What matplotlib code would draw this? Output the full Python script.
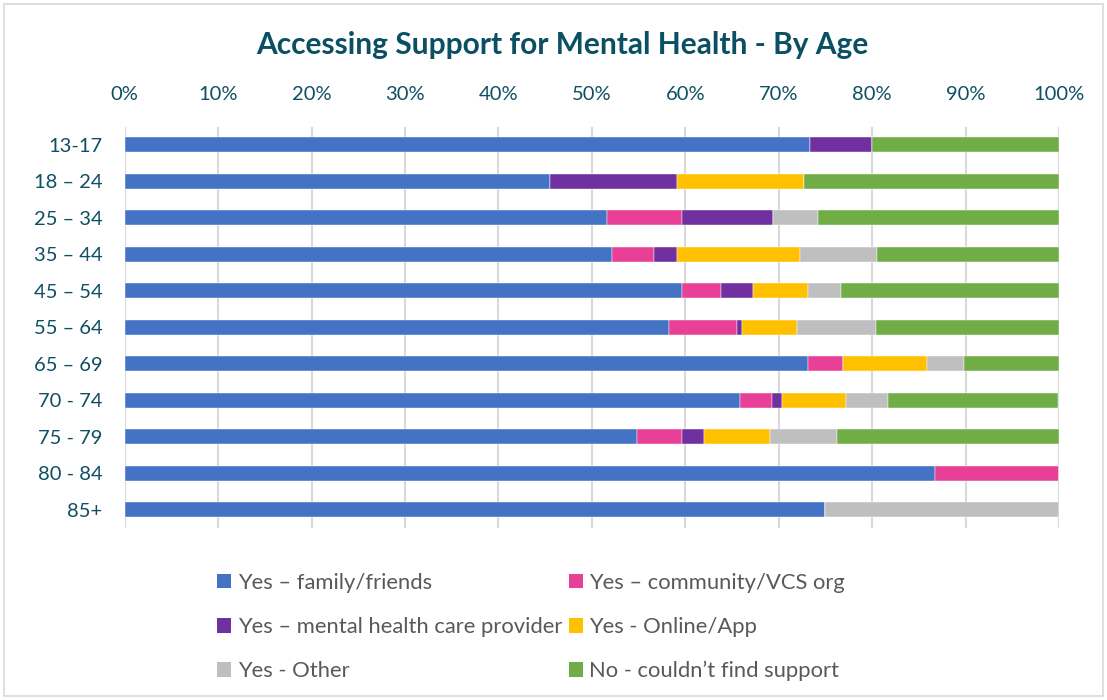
import matplotlib
matplotlib.use("Agg")
import matplotlib.pyplot as plt
from matplotlib.patches import Rectangle

plt.rcParams['font.family'] = ['Lato', 'DejaVu Sans']

categories = ["13-17", "18 – 24", "25 – 34", "35 – 44", "45 – 54", "55 – 64",
              "65 – 69", "70 - 74", "75 - 79", "80 - 84", "85+"]
series_names = ["Yes – family/friends", "Yes – community/VCS org",
                "Yes – mental health care provider", "Yes - Online/App",
                "Yes - Other", "No - couldn’t find support"]
family_friends = [73.3, 45.5, 51.6, 52.2, 59.6, 58.3, 73.1, 65.9, 54.8, 86.7, 75.0]
community_vcs  = [0.0, 0.0, 8.1, 4.4, 4.2, 7.2, 3.8, 3.4, 4.8, 13.3, 0.0]
mh_provider    = [6.7, 13.6, 9.7, 2.5, 3.5, 0.6, 0.0, 1.1, 2.4, 0.0, 0.0]
online_app     = [0.0, 13.6, 0.0, 13.2, 5.8, 5.9, 9.0, 6.8, 7.1, 0.0, 0.0]
other          = [0.0, 0.0, 4.8, 8.2, 3.6, 8.4, 3.9, 4.5, 7.1, 0.0, 25.0]
no_support     = [20.0, 27.3, 25.8, 19.5, 23.3, 19.6, 10.2, 18.2, 23.8, 0.0, 0.0]
xticklabels = ["0%", "10%", "20%", "30%", "40%", "50%", "60%", "70%", "80%", "90%", "100%"]

series = [family_friends, community_vcs, mh_provider, online_app, other, no_support]
colors = ["#4472C4", "#E84096", "#7030A0", "#FFC000", "#BFBFBF", "#70AD47"]

W, H = 1107, 700
fig = plt.figure(figsize=(W / 100, H / 100), dpi=100)

# outer border
fig.patches.append(Rectangle((4 / W, 4 / H), 1 - 8 / W, 1 - 8 / H,
                             transform=fig.transFigure, facecolor="none",
                             edgecolor="#D9D9D9", linewidth=1.2, zorder=-1))

x0, x1, ytop, ybot = 124.7, 1059.0, 126.5, 528.0
ax = fig.add_axes([x0 / W, 1 - ybot / H, (x1 - x0) / W, (ybot - ytop) / H])
ax.set_facecolor("none")

ypos = list(range(len(categories)))
left = [0.0] * len(categories)
for vals, col, name in zip(series, colors, series_names):
    ax.barh(ypos, vals, left=left, height=0.4, color=col, label=name,
            edgecolor="white", linewidth=0.3, zorder=3)
    left = [l + v for l, v in zip(left, vals)]

ax.set_xlim(0, 100)
ax.set_ylim(len(categories) - 0.5, -0.5)
ax.set_xticks(range(0, 101, 10))
ax.set_xticklabels(xticklabels)
ax.xaxis.tick_top()
ax.set_yticks(ypos)
ax.set_yticklabels(categories)
tc = "#0E4F63"
ax.tick_params(axis="x", length=0, pad=17, labelsize=14.5, labelcolor=tc)
ax.tick_params(axis="y", length=0, pad=16, labelsize=14.5, labelcolor=tc)
ax.grid(axis="x", color="#D9D9D9", linewidth=1.5, zorder=0)
for s in ax.spines.values():
    s.set_visible(False)

fig.text(562 / W, 1 - 45 / H, "Accessing Support for Mental Health - By Age",
         ha="center", va="center", fontsize=21.5, fontweight="bold", color="#0B4F63")

order = [0, 2, 4, 1, 3, 5]
handles = [Rectangle((0, 0), 1, 1, facecolor=colors[i]) for i in order]
labels = [series_names[i] for i in order]
leg = fig.legend(handles, labels, ncol=2, loc="upper left",
                 bbox_to_anchor=(197 / W, 1 - 553 / H), frameon=False,
                 fontsize=15.8, handlelength=0.65, handleheight=0.65,
                 handletextpad=0.3, columnspacing=0.3, labelspacing=1.1,
                 labelcolor="#595959")

fig.savefig("out.png", dpi=100)
